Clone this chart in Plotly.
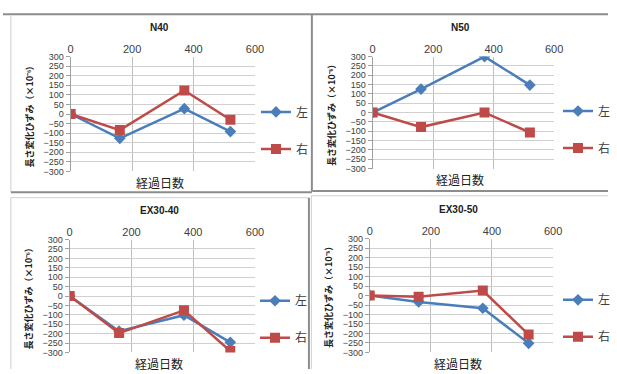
import plotly.graph_objects as go

W, H = 617, 374

titles = ["N40", "N50", "EX30-40", "EX30-50"]
days = [0, 160, 370, 520]
left_vals = [
    [0, -127, 28, -92],
    [0, 126, 300, 147],
    [0, -187, -102, -246],
    [0, -34, -67, -252],
]
right_vals = [
    [0, -84, 123, -30],
    [0, -78, 0, -107],
    [0, -197, -76, -292],
    [0, -7, 26, -206],
]
series_names = ["左", "右"]
x_ticks = [0, 200, 400, 600]
y_ticks = list(range(-300, 301, 50))
x_title = "経過日数"
y_title = "長さ変化ひずみ（×10⁻⁶）"

BLUE = "#4A7EBB"
RED = "#BE4B48"

# plot areas in pixels: (x0, x1, ytop, ybottom)
areas = [
    (69, 257, 53, 171),
    (377, 562, 53, 168),
    (68, 257, 241, 357),
    (374, 561, 240, 357),
]
legend_x = [258, 566, 257, 566]
legend_y = [95, 94, 289, 288]

def px(x):
    return x / W

def py(y):
    return 1 - y / H

fig = go.Figure()
layout = {}
annotations = []
shapes = []

for i in range(4):
    sfx = "" if i == 0 else str(i + 1)
    lg = "legend" if i == 0 else f"legend{i + 1}"
    x0, x1, yt, yb = areas[i]
    fig.add_trace(go.Scatter(
        x=days, y=left_vals[i], name=series_names[0], mode="lines+markers",
        line=dict(color=BLUE, width=2.5),
        marker=dict(symbol="diamond", size=9, color=BLUE),
        xaxis="x" + sfx, yaxis="y" + sfx, legend=lg, legendgroup=f"a{i}",
    ))
    fig.add_trace(go.Scatter(
        x=days, y=right_vals[i], name=series_names[1], mode="lines+markers",
        line=dict(color=RED, width=2.5),
        marker=dict(symbol="square", size=10, color=RED),
        xaxis="x" + sfx, yaxis="y" + sfx, legend=lg, legendgroup=f"b{i}",
    ))
    layout["xaxis" + sfx] = dict(
        domain=[px(x0), px(x1)], anchor="y" + sfx, side="top",
        range=[0, 600], tickvals=x_ticks, showgrid=True, gridcolor="#BFBFBF",
        gridwidth=1, zeroline=False, showline=False, ticks="",
        tickfont=dict(family="Liberation Sans Narrow, Liberation Sans", size=11, color="#404040"),
        fixedrange=True,
    )
    layout["yaxis" + sfx] = dict(
        domain=[py(yb), py(yt)], anchor="x" + sfx,
        range=[-300, 300], tickvals=y_ticks, showgrid=True, gridcolor="#D0D0D0",
        gridwidth=1, zeroline=False, showline=True, linecolor="#A0A0A0",
        ticks="outside", ticklen=4, tickcolor="#A0A0A0",
        tickfont=dict(family="Liberation Sans Narrow, Liberation Sans", size=9, color="#404040"),
        fixedrange=True,
    )
    layout[lg] = dict(
        x=px(legend_x[i]), y=py(legend_y[i]), xanchor="left", yanchor="top",
        bgcolor="rgba(0,0,0,0)", tracegroupgap=18,
        font=dict(family="Noto Sans CJK JP", size=12, color="#404040"),
    )
    cx = (x0 + x1) / 2
    annotations.append(dict(
        text=f"<b>{titles[i]}</b>", x=px(cx - 3), y=py(yt - 30), xref="paper", yref="paper",
        xanchor="center", yanchor="middle",
        showarrow=False, font=dict(family="Liberation Sans", size=10, color="#202020"),
    ))
    annotations.append(dict(
        text=x_title, x=px(cx - 3), y=py(yb + 11), xref="paper", yref="paper",
        xanchor="center", yanchor="middle",
        showarrow=False, font=dict(family="Noto Sans CJK JP", size=12, color="#202020"),
    ))
    annotations.append(dict(
        text=f"<b>{y_title}</b>", x=px(x0 - 42), y=py((yt + yb) / 2), xref="paper", yref="paper",
        xanchor="center", yanchor="middle",
        textangle=-90, showarrow=False,
        font=dict(family="Noto Sans CJK JP", size=9, color="#202020"),
    ))

# panel frames
def line(x0, y0, x1, y1, color, w):
    shapes.append(dict(type="line", xref="paper", yref="paper",
                       x0=px(x0), y0=py(y0), x1=px(x1), y1=py(y1),
                       line=dict(color=color, width=w)))

line(0, 9.5, 617, 9.5, "#8C8C8C", 2)
line(8, 10, 8, 192, "#D0D0D0", 1)
line(315, 10, 315, 192, "#8C8C8C", 2)
line(8, 192.5, 315, 192.5, "#8C8C8C", 2)
line(316, 191, 617, 191, "#8C8C8C", 2)
line(8, 198, 311, 198, "#D0D0D0", 1)
line(8, 198, 8, 374, "#D0D0D0", 1)
line(312, 198, 312, 374, "#8C8C8C", 2)
line(314, 196, 617, 196, "#D0D0D0", 1)
line(314.5, 196, 314.5, 374, "#D0D0D0", 1)

layout.update(dict(
    width=W, height=H, margin=dict(l=0, r=0, t=0, b=0),
    paper_bgcolor="white", plot_bgcolor="white",
    annotations=annotations, shapes=shapes, showlegend=True,
))
fig.update_layout(**layout)
fig.write_html("out.html", config={"displayModeBar": False})
